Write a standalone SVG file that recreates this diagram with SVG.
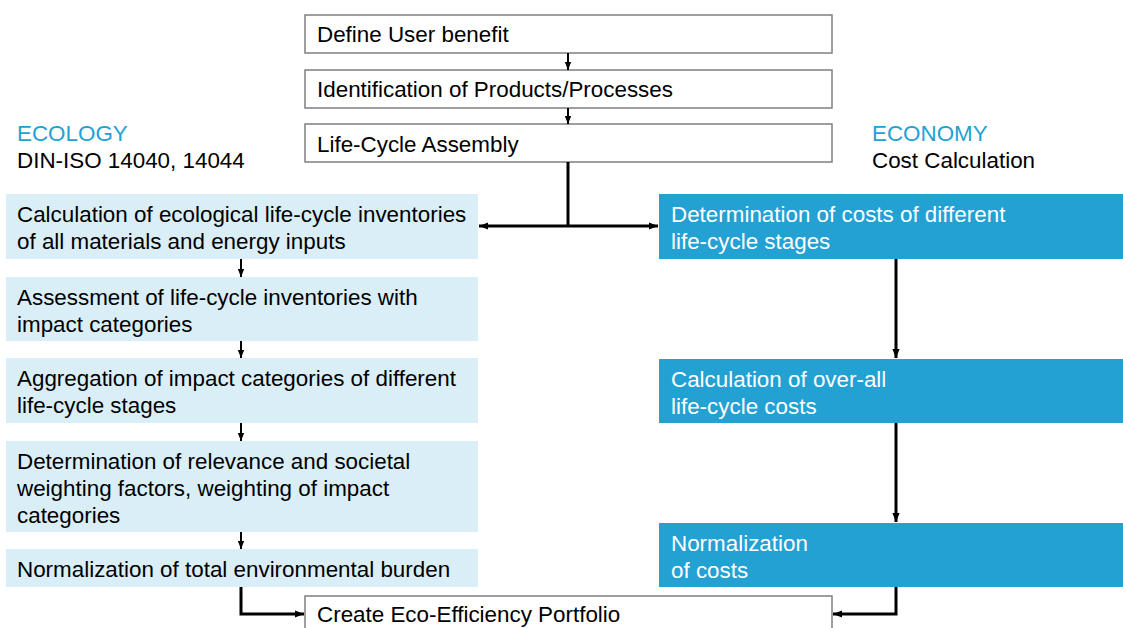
<svg xmlns="http://www.w3.org/2000/svg" width="1123" height="628" viewBox="0 0 1123 628">
<style>
text{font-family:"Liberation Sans",Arial,sans-serif;font-size:22.4px;fill:#000}
.wb{fill:#fff;stroke:#7f7f7f;stroke-width:1.5}
.lb{fill:#DAEEF7}
.db{fill:#23A1D3}
.wt{fill:#fff}
.hd{fill:#23A1D3}
.thin{stroke:#000;stroke-width:2;fill:none}
.thick{stroke:#000;stroke-width:3;fill:none}
</style>
<defs>
<marker id="ah" viewBox="0 0 10 10" refX="10" refY="5" markerWidth="4" markerHeight="4" orient="auto" markerUnits="strokeWidth"><path d="M0,1 L10,5 L0,9 z" fill="#000"/></marker>
<marker id="ah2" viewBox="0 0 10 10" refX="10" refY="5" markerWidth="3" markerHeight="3" orient="auto" markerUnits="strokeWidth"><path d="M0,1 L10,5 L0,9 z" fill="#000"/></marker>
</defs>
<rect width="1123" height="628" fill="#fff"/>
<g id="headers">
<text x="17" y="141" class="hd">ECOLOGY</text>
<text x="17" y="168">DIN-ISO 14040, 14044</text>
<text x="872" y="141" class="hd">ECONOMY</text>
<text x="872" y="168">Cost Calculation</text>
</g>
<g id="n-define"><rect class="wb" x="305" y="15" width="527" height="38"/><text x="317" y="42">Define User benefit</text></g>
<g id="n-ident"><rect class="wb" x="305" y="70" width="527" height="38"/><text x="317" y="97">Identification of Products/Processes</text></g>
<g id="n-lca"><rect class="wb" x="305" y="124" width="527" height="38"/><text x="317" y="152">Life-Cycle Assembly</text></g>
<g id="n-eco1"><rect class="lb" x="6" y="194" width="472" height="65"/><text x="17" y="222">Calculation of ecological life-cycle inventories</text><text x="17" y="249">of all materials and energy inputs</text></g>
<g id="n-eco2"><rect class="lb" x="6" y="277" width="472" height="64"/><text x="17" y="305">Assessment of life-cycle inventories with</text><text x="17" y="332">impact categories</text></g>
<g id="n-eco3"><rect class="lb" x="6" y="358" width="472" height="65"/><text x="17" y="386">Aggregation of impact categories of different</text><text x="17" y="413">life-cycle stages</text></g>
<g id="n-eco4"><rect class="lb" x="6" y="441" width="472" height="91"/><text x="17" y="469">Determination of relevance and societal</text><text x="17" y="496">weighting factors, weighting of impact</text><text x="17" y="523">categories</text></g>
<g id="n-eco5"><rect class="lb" x="6" y="549" width="472" height="38"/><text x="17" y="577">Normalization of total environmental burden</text></g>
<g id="n-cost1"><rect class="db" x="659" y="194" width="464" height="65"/><text class="wt" x="671" y="222">Determination of costs of different</text><text class="wt" x="671" y="249">life-cycle stages</text></g>
<g id="n-cost2"><rect class="db" x="659" y="359" width="464" height="64"/><text class="wt" x="671" y="387">Calculation of over-all</text><text class="wt" x="671" y="414">life-cycle costs</text></g>
<g id="n-cost3"><rect class="db" x="659" y="523" width="464" height="64"/><text class="wt" x="671" y="551">Normalization</text><text class="wt" x="671" y="578">of costs</text></g>
<g id="n-portfolio"><rect class="wb" x="305" y="596" width="527" height="40"/><text x="317" y="622">Create Eco-Efficiency Portfolio</text></g>
<g id="connectors">
<line class="thin" x1="568" y1="53" x2="568" y2="70" marker-end="url(#ah)"/>
<line class="thin" x1="568" y1="108" x2="568" y2="124" marker-end="url(#ah)"/>
<line class="thick" x1="568" y1="162" x2="568" y2="226"/>
<line class="thick" x1="568" y1="226" x2="479" y2="226" marker-end="url(#ah2)"/>
<line class="thick" x1="568" y1="226" x2="658" y2="226" marker-end="url(#ah2)"/>
<line class="thin" x1="241" y1="259" x2="241" y2="277" marker-end="url(#ah)"/>
<line class="thin" x1="241" y1="341" x2="241" y2="358" marker-end="url(#ah)"/>
<line class="thin" x1="241" y1="423" x2="241" y2="441" marker-end="url(#ah)"/>
<line class="thin" x1="241" y1="532" x2="241" y2="549" marker-end="url(#ah)"/>
<line class="thick" x1="896" y1="259" x2="896" y2="358" marker-end="url(#ah2)"/>
<line class="thick" x1="896" y1="423" x2="896" y2="522" marker-end="url(#ah2)"/>
<polyline class="thick" points="241,587 241,614 304,614" marker-end="url(#ah2)"/>
<polyline class="thick" points="896,587 896,614 833,614" marker-end="url(#ah2)"/>
</g>
</svg>
